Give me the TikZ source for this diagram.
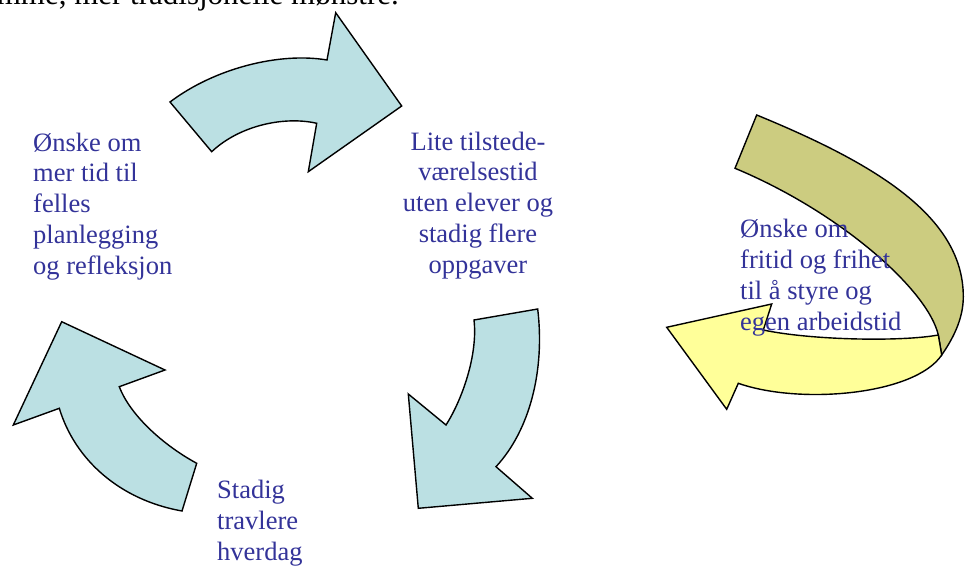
\documentclass[tikz,border=0pt]{standalone}
\usepackage{fontspec}
\setmainfont{Liberation Serif}
\definecolor{labelblue}{HTML}{333399}
\definecolor{cyclefill}{HTML}{BBE0E3}
\definecolor{olivefill}{HTML}{CCCC80}
\definecolor{paleyellow}{HTML}{FFFF99}
\tikzset{
  shapeline/.style={draw=black, line width=1.4pt, line join=miter},
  label/.style={text=labelblue, inner sep=0pt, font=\fontsize{26.5}{30.7}\selectfont},
}
\begin{document}
\begin{tikzpicture}[x=1pt, y=-1pt]
\clip (0,0) rectangle (972,567);
\fill[white] (0,0) rectangle (972,567);

% running text line, partly cut by the top edge
\node[anchor=base east, inner sep=0pt, font=\fontsize{31}{36}\selectfont] (runtext) at (399,5) {samme, mer tradisjonelle mønstre.};

% upper curved arrow
\filldraw[shapeline, fill=cyclefill]
  (170,102) .. controls (215,68) and (280,52) .. (327,60)
  -- (335.7,12.7) -- (401.7,106) -- (308.3,171.7) -- (316.7,123.3)
  .. controls (285,116) and (240,125) .. (211.7,151.7) -- cycle;

% right curved arrow
\filldraw[shapeline, fill=cyclefill]
  (474,320) -- (537.7,309)
  .. controls (545,370) and (530,430) .. (496,466.7)
  -- (532.3,498.3) -- (418.3,508.3) -- (408.3,394) -- (446,425)
  .. controls (462,400) and (478,355) .. cycle;

% lower left curved arrow
\filldraw[shapeline, fill=cyclefill]
  (196.7,463.3) .. controls (163,445) and (130,415) .. (119.3,386.7)
  -- (165,370) -- (61.7,321.7) -- (13.3,425) -- (59.3,408.3)
  .. controls (75,460) and (120,500) .. (182,511) -- cycle;

% twisted arrow: back face
\filldraw[shapeline, fill=olivefill]
  (756.7,115) .. controls (876,164) and (963.3,216.7) .. (963.3,296.7)
  .. controls (963.3,320) and (952,340) .. (941.7,355)
  -- (938.3,335)
  .. controls (928,290) and (840,212) .. (735,168.3) -- cycle;

% twisted arrow: front face with head
\filldraw[shapeline, fill=paleyellow]
  (938.3,335) .. controls (900,342) and (810,340) .. (763.3,330)
  -- (771.7,304) -- (666.7,327.3) -- (726.7,409.3) -- (738.3,383.3)
  .. controls (800,405) and (915,395) .. (941.7,355) -- cycle;

% labels (anchored at the baseline of their last line)
\node[label, align=left, anchor=base west] (wish) at (33,274)
  {Ønske om\\mer tid til\\felles\\planlegging\\og refleksjon};
\node[label, align=center, anchor=base] (time) at (478,273)
  {Lite tilstede-\\værelsestid\\uten elever og\\stadig flere\\oppgaver};
\node[label, align=left, anchor=base west, font=\fontsize{26.5}{31}\selectfont] (busy) at (217,560)
  {Stadig\\travlere\\hverdag};
\node[label, align=left, anchor=base west, font=\fontsize{26.5}{31}\selectfont] (free) at (740,330)
  {Ønske om\\fritid og frihet\\til å styre og\\egen arbeidstid};
\end{tikzpicture}
\end{document}
